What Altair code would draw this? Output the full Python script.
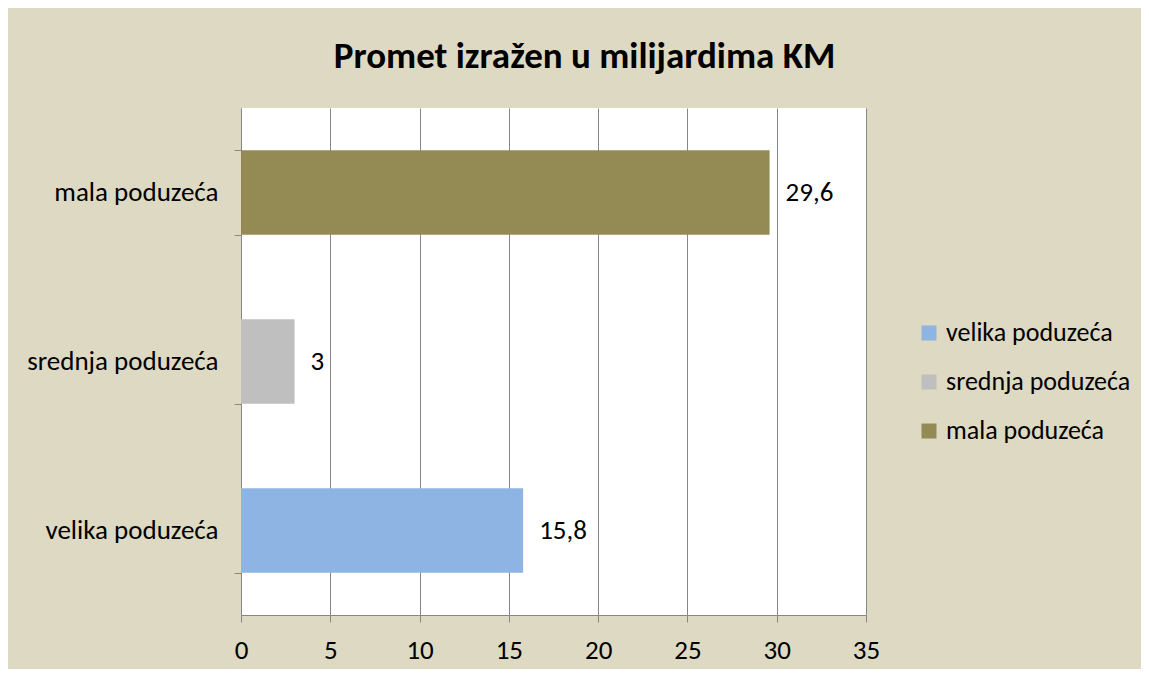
import altair as alt
import pandas as pd

categories = ["mala poduzeća", "srednja poduzeća", "velika poduzeća"]
values = [29.6, 3, 15.8]
legend_order = ["velika poduzeća", "srednja poduzeća", "mala poduzeća"]
colors = ["#8EB4E3", "#BFBFBF", "#948A54"]
x_ticks = [0, 5, 10, 15, 20, 25, 30, 35]

df = pd.DataFrame({"kategorija": categories, "vrijednost": values})

FONT = "Carlito, Lato, sans-serif"
FS = 27

base = alt.Chart(df).encode(
    y=alt.Y(
        "kategorija:N",
        sort=categories,
        scale=alt.Scale(paddingInner=0.5, paddingOuter=0.25),
        axis=alt.Axis(
            title=None, tickBand="extent", labelFontSize=FS, labelColor="#000000",
            labelPadding=16, tickSize=7, tickColor="#868686", domainColor="#868686",
            labelFont=FONT, grid=False, labelLimit=300,
        ),
    ),
)

bars = base.mark_bar().encode(
    x=alt.X(
        "vrijednost:Q",
        scale=alt.Scale(domain=[0, 35], nice=False),
        axis=alt.Axis(
            title=None, values=x_ticks, labelFontSize=FS, labelColor="#000000",
            labelFont=FONT, tickSize=7, tickColor="#868686", domainColor="#868686",
            gridColor="#868686", gridOpacity=1, labelPadding=15, labelFlush=False,
        ),
    ),
    color=alt.Color(
        "kategorija:N",
        scale=alt.Scale(domain=legend_order, range=colors),
        legend=alt.Legend(
            title=None, orient="none", legendX=675, legendY=212,
            symbolType="square", symbolSize=225, symbolStrokeWidth=0,
            labelFontSize=26, labelFont=FONT, labelColor="#000000",
            rowPadding=23, labelOffset=4, labelLimit=300,
        ),
    ),
)

labels = base.transform_calculate(
    txt="replace(toString(datum.vrijednost), '.', ',')"
).mark_text(align="left", baseline="middle", dx=16, fontSize=FS, font=FONT, color="#000000").encode(
    x=alt.X("vrijednost:Q"),
    text="txt:N",
)

chart = (
    (bars + labels)
    .properties(
        width=625,
        height=507,
        padding={"left": 233, "top": 100, "right": 275, "bottom": 54},
        autosize=alt.AutoSizeParams(type="none"),
        background="#DDD9C3",
        title=alt.TitleParams(
            "Promet izražen u milijardima KM", fontSize=37, font=FONT, fontWeight="bold",
            color="#000000", offset=18, dx=31, anchor="middle",
        ),
    )
    .configure_view(stroke=None, fill="#FFFFFF")
)

chart.save("out.html", embed_options={"renderer": "svg", "actions": False})
